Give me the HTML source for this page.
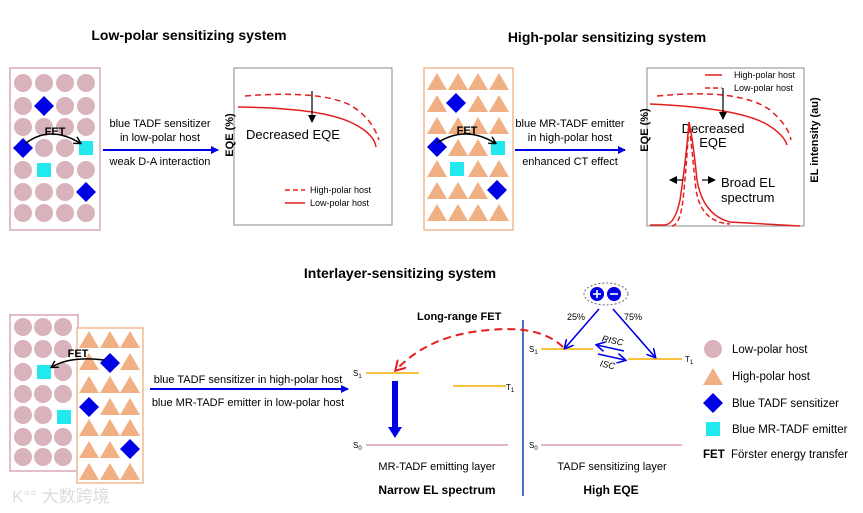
<!DOCTYPE html>
<html><head><meta charset="utf-8"><style>
html,body{margin:0;padding:0;background:#fff;}
svg{display:block;font-family:"Liberation Sans",Arial,sans-serif;}
</style></head><body>
<svg width="863" height="513" viewBox="0 0 863 513" xmlns="http://www.w3.org/2000/svg">
<defs>
<circle id="c" r="9" fill="#d9b3bb"/>
<polygon id="t" points="0,-9 10,8 -10,8" fill="#f0b083"/>
<polygon id="d" points="0,-10 10,0 0,10 -10,0" fill="#0000e6"/>
<rect id="s" x="-7" y="-7" width="14" height="14" fill="#22e8ef"/>
<marker id="ab" markerWidth="8" markerHeight="8" refX="7" refY="4" orient="auto" markerUnits="userSpaceOnUse"><path d="M0,0 L8,4 L0,8 z" fill="#0000e6"/></marker>
<marker id="ak" markerWidth="8" markerHeight="8" refX="6" refY="4" orient="auto" markerUnits="userSpaceOnUse"><path d="M0,0 L7,4 L0,8" fill="none" stroke="#000" stroke-width="1.5"/></marker>
<marker id="akf" markerWidth="8" markerHeight="8" refX="7" refY="4" orient="auto" markerUnits="userSpaceOnUse"><path d="M0,0 L8,4 L0,8 z" fill="#000"/></marker>
<marker id="abo" markerWidth="10" markerHeight="10" refX="8" refY="5" orient="auto" markerUnits="userSpaceOnUse"><path d="M0,0 L9,5 L0,10" fill="none" stroke="#0000e6" stroke-width="1.6"/></marker>
<marker id="ar" markerWidth="12" markerHeight="12" refX="9" refY="6" orient="auto" markerUnits="userSpaceOnUse"><path d="M0,0 L10,6 L0,12" fill="none" stroke="#e41e1e" stroke-width="2"/></marker>
</defs>

<!-- Titles -->
<g font-weight="bold" font-size="14" text-anchor="middle" fill="#000">
<text x="189" y="40">Low-polar sensitizing system</text>
<text x="607" y="42">High-polar sensitizing system</text>
<text x="400" y="278">Interlayer-sensitizing system</text>
</g>

<!-- Panel 1 -->
<rect x="10" y="68" width="90" height="162" fill="none" stroke="#d9aab3" stroke-width="1.5"/>
<g>
<use href="#c" x="23" y="83"/><use href="#c" x="44" y="83"/><use href="#c" x="65" y="83"/><use href="#c" x="86" y="83"/>
<use href="#c" x="23" y="106"/><use href="#d" x="44" y="106"/><use href="#c" x="65" y="106"/><use href="#c" x="86" y="106"/>
<use href="#c" x="23" y="127"/><use href="#c" x="44" y="127"/><use href="#c" x="65" y="127"/><use href="#c" x="86" y="127"/>
<use href="#d" x="23" y="148"/><use href="#c" x="44" y="148"/><use href="#c" x="65" y="148"/><use href="#s" x="86" y="148"/>
<use href="#c" x="23" y="170"/><use href="#s" x="44" y="170"/><use href="#c" x="65" y="170"/><use href="#c" x="86" y="170"/>
<use href="#c" x="23" y="192"/><use href="#c" x="44" y="192"/><use href="#c" x="65" y="192"/><use href="#d" x="86" y="192"/>
<use href="#c" x="23" y="213"/><use href="#c" x="44" y="213"/><use href="#c" x="65" y="213"/><use href="#c" x="86" y="213"/>
</g>
<path d="M26,143 Q50,125 80,143" fill="none" stroke="#000" stroke-width="1.5" marker-end="url(#ak)"/>
<text x="55" y="135" font-size="11" font-weight="bold" text-anchor="middle">FET</text>
<line x1="103" y1="150" x2="218" y2="150" stroke="#0000e6" stroke-width="2" marker-end="url(#ab)"/>
<g font-size="11" text-anchor="middle"><text x="160" y="127">blue TADF sensitizer</text><text x="160" y="141">in low-polar host</text><text x="160" y="165">weak D-A interaction</text></g>
<rect x="234" y="68" width="158" height="157" fill="none" stroke="#888" stroke-width="1"/>
<text transform="translate(233,135) rotate(-90)" font-size="11" font-weight="bold" text-anchor="middle">EQE (%)</text>
<path d="M245,96 Q320,90 350,105 Q372,118 379,140" fill="none" stroke="#e41e1e" stroke-width="1.5" stroke-dasharray="6,4"/>
<path d="M238,107 Q320,108 350,122 Q374,133 376,147" fill="none" stroke="#e41e1e" stroke-width="1.5"/>
<line x1="312" y1="91" x2="312" y2="122" stroke="#000" stroke-width="1.2" marker-end="url(#akf)"/>
<text x="246" y="139" font-size="13">Decreased EQE</text>
<line x1="285" y1="190" x2="305" y2="190" stroke="#e41e1e" stroke-width="1.5" stroke-dasharray="5,3"/>
<line x1="285" y1="203" x2="305" y2="203" stroke="#e41e1e" stroke-width="1.5"/>
<g font-size="9"><text x="310" y="193">High-polar host</text><text x="310" y="206">Low-polar host</text></g>

<!-- Panel 2 -->
<rect x="424" y="68" width="89" height="162" fill="none" stroke="#f1b890" stroke-width="1.5"/>
<g>
<use href="#t" x="437" y="82"/><use href="#t" x="458" y="82"/><use href="#t" x="478" y="82"/><use href="#t" x="499" y="82"/>
<use href="#t" x="437" y="104"/><use href="#d" x="456" y="103"/><use href="#t" x="478" y="104"/><use href="#t" x="499" y="104"/>
<use href="#t" x="437" y="126"/><use href="#t" x="458" y="126"/><use href="#t" x="478" y="126"/><use href="#t" x="499" y="126"/>
<use href="#d" x="437" y="147"/><use href="#t" x="458" y="148"/><use href="#t" x="478" y="148"/><use href="#s" x="498" y="148"/>
<use href="#t" x="437" y="169"/><use href="#s" x="457" y="169"/><use href="#t" x="478" y="169"/><use href="#t" x="499" y="169"/>
<use href="#t" x="437" y="191"/><use href="#t" x="458" y="191"/><use href="#t" x="478" y="191"/><use href="#d" x="497" y="190"/>
<use href="#t" x="437" y="213"/><use href="#t" x="458" y="213"/><use href="#t" x="478" y="213"/><use href="#t" x="499" y="213"/>
</g>
<path d="M437,143 Q465,125 495,143" fill="none" stroke="#000" stroke-width="1.5" marker-end="url(#ak)"/>
<text x="467" y="134" font-size="11" font-weight="bold" text-anchor="middle">FET</text>
<line x1="515" y1="150" x2="625" y2="150" stroke="#0000e6" stroke-width="2" marker-end="url(#ab)"/>
<g font-size="11" text-anchor="middle"><text x="570" y="127">blue MR-TADF emitter</text><text x="570" y="141">in high-polar host</text><text x="570" y="165">enhanced CT effect</text></g>
<rect x="647" y="68" width="157" height="158" fill="none" stroke="#888" stroke-width="1"/>
<text transform="translate(648,130) rotate(-90)" font-size="11" font-weight="bold" text-anchor="middle">EQE (%)</text>
<text transform="translate(818,140) rotate(-90)" font-size="11" font-weight="bold" text-anchor="middle">EL intensity (au)</text>
<line x1="705" y1="75" x2="722" y2="75" stroke="#e41e1e" stroke-width="1.5"/>
<line x1="705" y1="88" x2="722" y2="88" stroke="#e41e1e" stroke-width="1.5" stroke-dasharray="5,3"/>
<g font-size="9"><text x="734" y="78">High-polar host</text><text x="734" y="91">Low-polar host</text></g>
<path d="M657,96 Q740,88 770,110 Q788,125 791,140" fill="none" stroke="#e41e1e" stroke-width="1.5" stroke-dasharray="6,4"/>
<path d="M650,104 Q740,108 768,125 Q784,135 787,145" fill="none" stroke="#e41e1e" stroke-width="1.5"/>
<line x1="723" y1="88" x2="723" y2="119" stroke="#000" stroke-width="1.2" marker-end="url(#akf)"/>
<g font-size="13" text-anchor="middle"><text x="713" y="133">Decreased</text><text x="713" y="147">EQE</text></g>
<path d="M650,225 L665,225 Q675,224 680,200 Q686,160 689,122 Q693,140 697,180 Q703,215 730,222 L800,226" fill="none" stroke="#e41e1e" stroke-width="1.5"/>
<path d="M672,226 Q680,225 683,200 Q687,160 689,123 Q692,150 696,190 Q701,222 730,224" fill="none" stroke="#e41e1e" stroke-width="1.5" stroke-dasharray="5,3"/>
<line x1="683" y1="180" x2="670" y2="180" stroke="#000" stroke-width="1.2" marker-end="url(#akf)"/>
<line x1="702" y1="180" x2="715" y2="180" stroke="#000" stroke-width="1.2" marker-end="url(#akf)"/>
<g font-size="13"><text x="721" y="187">Broad EL</text><text x="721" y="202">spectrum</text></g>

<!-- Bottom left -->
<rect x="10" y="315" width="68" height="156" fill="none" stroke="#d9aab3" stroke-width="1.5"/>
<rect x="77" y="328" width="66" height="155" fill="#fff" stroke="#f1b890" stroke-width="1.5"/>
<g>
<use href="#c" x="23" y="327"/><use href="#c" x="43" y="327"/><use href="#c" x="63" y="327"/>
<use href="#c" x="23" y="349"/><use href="#c" x="43" y="349"/><use href="#c" x="63" y="349"/>
<use href="#c" x="23" y="372"/><use href="#s" x="44" y="372"/><use href="#c" x="63" y="372"/>
<use href="#c" x="23" y="394"/><use href="#c" x="43" y="394"/><use href="#c" x="63" y="394"/>
<use href="#c" x="23" y="415"/><use href="#c" x="43" y="415"/><use href="#s" x="64" y="417"/>
<use href="#c" x="23" y="437"/><use href="#c" x="43" y="437"/><use href="#c" x="63" y="437"/>
<use href="#c" x="23" y="457"/><use href="#c" x="43" y="457"/><use href="#c" x="63" y="457"/>
</g>
<g>
<use href="#t" x="89" y="340"/><use href="#t" x="110" y="340"/><use href="#t" x="130" y="340"/>
<use href="#t" x="89" y="362"/><use href="#d" x="110" y="363"/><use href="#t" x="130" y="362"/>
<use href="#t" x="89" y="385"/><use href="#t" x="110" y="385"/><use href="#t" x="130" y="385"/>
<use href="#d" x="89" y="407"/><use href="#t" x="110" y="407"/><use href="#t" x="130" y="407"/>
<use href="#t" x="89" y="428"/><use href="#t" x="110" y="428"/><use href="#t" x="130" y="428"/>
<use href="#t" x="89" y="450"/><use href="#t" x="110" y="450"/><use href="#d" x="130" y="449"/>
<use href="#t" x="89" y="472"/><use href="#t" x="110" y="472"/><use href="#t" x="130" y="472"/>
</g>
<path d="M104,360 Q70,356 52,367" fill="none" stroke="#000" stroke-width="1.5" marker-end="url(#ak)"/>
<text x="78" y="357" font-size="11" font-weight="bold" text-anchor="middle">FET</text>
<line x1="150" y1="389" x2="348" y2="389" stroke="#0000e6" stroke-width="2" marker-end="url(#ab)"/>
<g font-size="11" text-anchor="middle"><text x="248" y="383">blue TADF sensitizer in high-polar host</text><text x="248" y="406">blue MR-TADF emitter in low-polar host</text></g>
<text x="12" y="502" font-size="17" fill="#ddd" font-family="'Liberation Sans','Noto Sans CJK SC',sans-serif">K°° 大数跨境</text>

<!-- Energy diagram -->
<g font-size="8" fill="#000">
<text x="353" y="376">S<tspan font-size="6" dy="2">1</tspan></text>
<text x="506" y="390">T<tspan font-size="6" dy="2">1</tspan></text>
<text x="353" y="448">S<tspan font-size="6" dy="2">0</tspan></text>
<text x="529" y="352">S<tspan font-size="6" dy="2">1</tspan></text>
<text x="685" y="362">T<tspan font-size="6" dy="2">1</tspan></text>
<text x="529" y="448">S<tspan font-size="6" dy="2">0</tspan></text>
</g>
<g stroke="#f7c23e" stroke-width="2">
<line x1="366" y1="373" x2="419" y2="373"/>
<line x1="453" y1="386" x2="506" y2="386"/>
<line x1="541" y1="349" x2="593" y2="349"/>
<line x1="628" y1="359" x2="682" y2="359"/>
</g>
<g stroke="#d99ea5" stroke-width="1.5">
<line x1="366" y1="445" x2="508" y2="445"/>
<line x1="541" y1="445" x2="682" y2="445"/>
</g>
<rect x="392" y="381" width="6" height="47" fill="#0000e6"/>
<polygon points="388,427 402,427 395,438" fill="#0000e6"/>
<line x1="523" y1="320" x2="523" y2="496" stroke="#4a6fc7" stroke-width="2"/>
<g font-size="11" text-anchor="middle"><text x="437" y="470">MR-TADF emitting layer</text><text x="612" y="470">TADF sensitizing layer</text></g>
<g font-size="12" font-weight="bold" text-anchor="middle"><text x="437" y="494">Narrow EL spectrum</text><text x="611" y="494">High EQE</text></g>
<ellipse cx="606" cy="294" rx="22" ry="11" fill="none" stroke="#667" stroke-width="1" stroke-dasharray="2,2"/>
<circle cx="597" cy="294" r="7" fill="#0000e6"/><circle cx="614" cy="294" r="7" fill="#0000e6"/>
<g stroke="#fff" stroke-width="1.6"><line x1="593" y1="294" x2="601" y2="294"/><line x1="597" y1="290" x2="597" y2="298"/><line x1="610" y1="294" x2="618" y2="294"/></g>
<line x1="599" y1="309" x2="565" y2="348" stroke="#0000e6" stroke-width="1.6" marker-end="url(#abo)"/>
<line x1="613" y1="309" x2="655" y2="357" stroke="#0000e6" stroke-width="1.6" marker-end="url(#abo)"/>
<g font-size="9"><text x="567" y="320">25%</text><text x="624" y="320">75%</text></g>
<line x1="624" y1="351" x2="597" y2="345" stroke="#0000e6" stroke-width="1.6" marker-end="url(#abo)"/>
<line x1="598" y1="354" x2="625" y2="360" stroke="#0000e6" stroke-width="1.6" marker-end="url(#abo)"/>
<text x="602" y="343" font-size="9" font-style="italic" transform="rotate(12 610 340)">RISC</text>
<text x="600" y="368" font-size="9" font-style="italic" transform="rotate(12 608 365)">ISC</text>
<path d="M563,347 Q540,325 490,330 Q430,334 396,370" fill="none" stroke="#e41e1e" stroke-width="2" stroke-dasharray="8,5" marker-end="url(#ar)"/>
<text x="417" y="320" font-size="11" font-weight="bold">Long-range FET</text>

<!-- Legend -->
<use href="#c" x="713" y="349"/>
<use href="#t" x="713" y="377"/>
<use href="#d" x="713" y="403"/>
<use href="#s" x="713" y="429"/>
<g font-size="11.5"><text x="732" y="353">Low-polar host</text><text x="732" y="380">High-polar host</text><text x="732" y="407">Blue TADF sensitizer</text><text x="732" y="433">Blue MR-TADF emitter</text><text x="731" y="458">Förster energy transfer</text></g>
<text x="703" y="458" font-size="11.5" font-weight="bold">FET</text>
</svg>
</body></html>
